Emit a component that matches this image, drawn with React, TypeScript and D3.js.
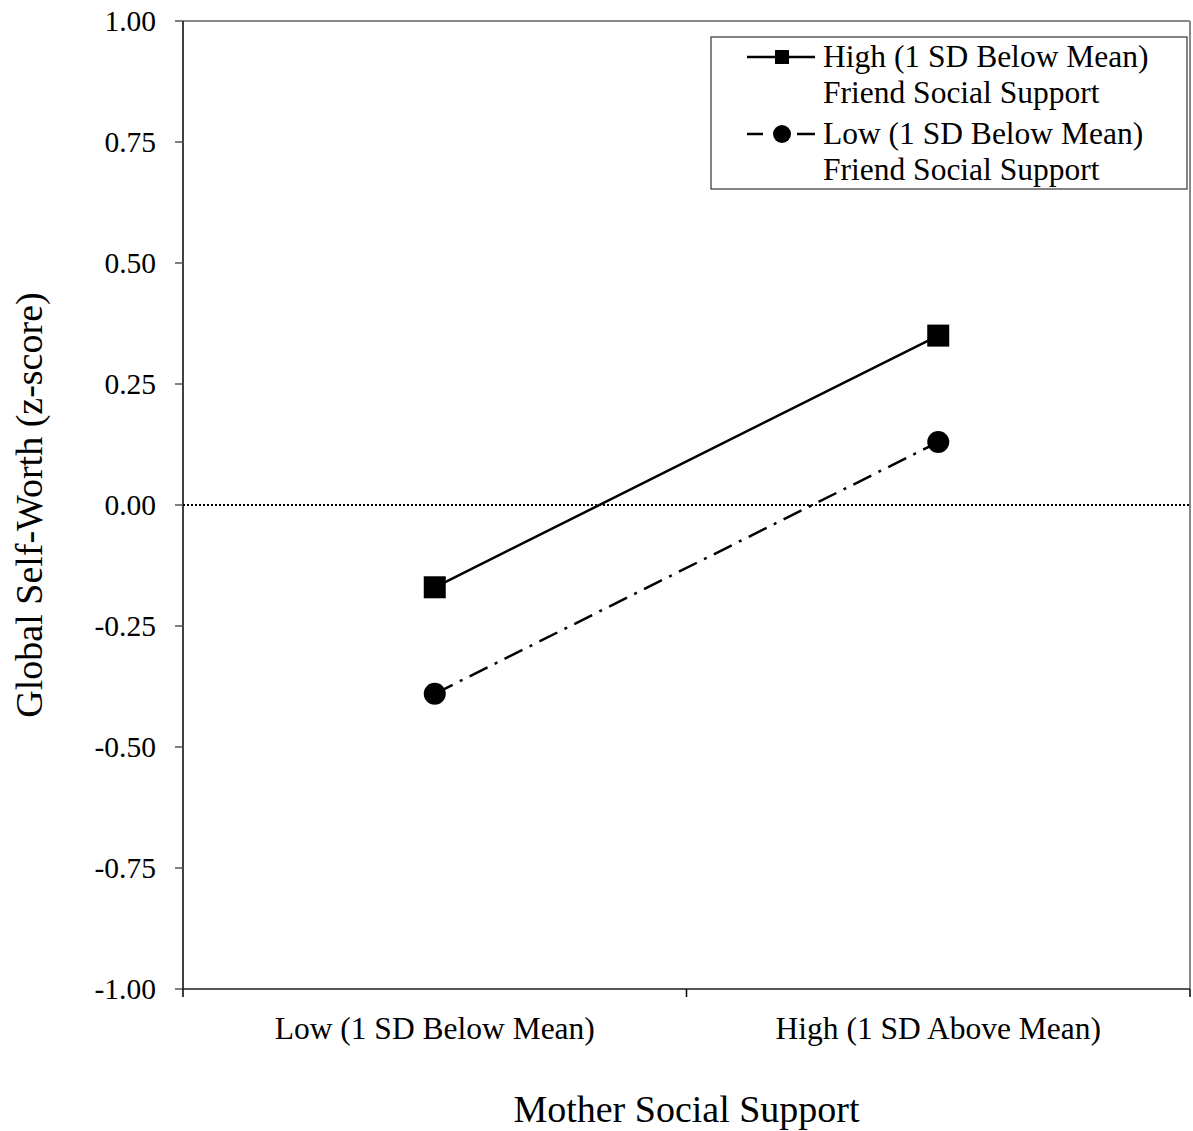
import React from "react";
import * as d3 from "d3";

const categories = ["Low (1 SD Below Mean)", "High (1 SD Above Mean)"];
const highFriend = [-0.17, 0.35];
const lowFriend = [-0.39, 0.13];
const yTicks = [-1, -0.75, -0.5, -0.25, 0, 0.25, 0.5, 0.75, 1];
const legendLines = [
  ["High (1 SD Below Mean)", "Friend Social Support"],
  ["Low (1 SD Below Mean)", "Friend Social Support"],
];

const W = 1193;
const H = 1131;
const L = 183, R = 1190, T = 21, B = 989;
const font = "'Liberation Serif', 'Times New Roman', serif";

const fmt = (t: number) => d3.format(".2f")(t).replace("\u2212", "-");

export default function App() {
  const x = d3.scaleBand().domain(categories).range([L, R]);
  const y = d3.scaleLinear().domain([-1, 1]).range([B, T]);
  const line = d3
    .line<number>()
    .x((_, i) => (x(categories[i]) as number) + x.bandwidth() / 2)
    .y((d) => y(d));
  const xTickPos = [L, L + x.bandwidth(), R];
  return (
    <svg
      width={W}
      height={H}
      style={{ position: "absolute", left: 0, top: 0, background: "#fff" }}
      fontFamily={font}
    >
      {/* frame */}
      <line x1={L} x2={R} y1={T} y2={T} stroke="#888" strokeWidth={2} />
      <line x1={R} x2={R} y1={T} y2={B} stroke="#888" strokeWidth={2} />
      <line x1={L} x2={R} y1={B} y2={B} stroke="#555" strokeWidth={2} />
      <line x1={L} x2={L} y1={T} y2={B} stroke="#000" strokeWidth={1.5} />
      {/* y ticks */}
      {yTicks.map((t) => (
        <g key={t}>
          <line x1={L - 8} x2={L} y1={y(t)} y2={y(t)} stroke="#555" strokeWidth={1.5} />
          <text x={156} y={y(t) + 10} textAnchor="end" fontSize={29.5}>
            {fmt(t)}
          </text>
        </g>
      ))}
      {/* x ticks */}
      {xTickPos.map((p, i) => (
        <line key={i} x1={p} x2={p} y1={B} y2={B + 8} stroke="#000" strokeWidth={1.5} />
      ))}
      {categories.map((c) => (
        <text
          key={c}
          x={(x(c) as number) + x.bandwidth() / 2}
          y={1039}
          textAnchor="middle"
          fontSize={31.5}
        >
          {c}
        </text>
      ))}
      {/* zero line */}
      <line x1={L} x2={R} y1={y(0)} y2={y(0)} stroke="#000" strokeWidth={2} strokeDasharray="2,2" />
      {/* series */}
      <path d={line(highFriend) as string} fill="none" stroke="#000" strokeWidth={2.5} />
      <path
        d={line(lowFriend) as string}
        fill="none"
        stroke="#000"
        strokeWidth={2.5}
        strokeDasharray="20,8,3,8"
      />
      {highFriend.map((v, i) => (
        <rect
          key={i}
          x={(x(categories[i]) as number) + x.bandwidth() / 2 - 11}
          y={y(v) - 11}
          width={22}
          height={22}
          fill="#000"
        />
      ))}
      {lowFriend.map((v, i) => (
        <circle
          key={i}
          cx={(x(categories[i]) as number) + x.bandwidth() / 2}
          cy={y(v)}
          r={11}
          fill="#000"
        />
      ))}
      {/* axis titles */}
      <text
        transform={`translate(42,${y(0)}) rotate(-90)`}
        textAnchor="middle"
        fontSize={38}
      >
        Global Self-Worth (z-score)
      </text>
      <text x={(L + R) / 2} y={1122} textAnchor="middle" fontSize={38}>
        Mother Social Support
      </text>
      {/* legend */}
      <rect x={711} y={37} width={476} height={152} fill="#fff" stroke="#333" strokeWidth={1.2} />
      <line x1={747} x2={815} y1={57} y2={57} stroke="#000" strokeWidth={2.5} />
      <rect x={775} y={50} width={14} height={14} fill="#000" />
      <line x1={747} x2={763} y1={134} y2={134} stroke="#000" strokeWidth={2.5} />
      <line x1={797} x2={815} y1={134} y2={134} stroke="#000" strokeWidth={2.5} />
      <circle cx={782} cy={134} r={9} fill="#000" />
      {legendLines.map((ls, i) =>
        ls.map((s, j) => (
          <text key={`${i}-${j}`} x={823} y={67 + i * 77 + j * 36} fontSize={31.5}>
            {s}
          </text>
        ))
      )}
    </svg>
  );
}
